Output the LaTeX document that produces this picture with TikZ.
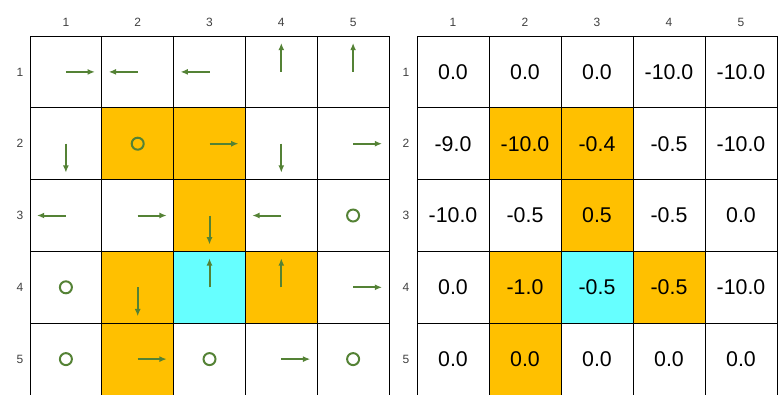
\documentclass[tikz,border=0pt]{standalone}
\usepackage{fontspec}
\setmainfont{Liberation Sans}
\usepackage{xcolor}
\usepackage{tikz}
\usetikzlibrary{arrows.meta,calc}

\definecolor{optgreen}{RGB}{84,130,53}
\definecolor{pathorange}{RGB}{255,192,0}
\definecolor{startcyan}{RGB}{102,255,255}
\definecolor{labelgray}{RGB}{64,64,64}

\tikzset{
    act/.style={draw=optgreen, line width=1.5pt, -{Latex[length=5.5pt,width=4.5pt]}},
    stay/.style={draw=optgreen, line width=1.5pt},
    idx/.style={font=\fontsize{9}{10}\selectfont, text=labelgray},
    val/.style={font=\fontsize{16}{18}\selectfont}
}

\begin{document}
\begin{tikzpicture}[x=0.75pt,y=-0.75pt]
    \useasboundingbox (0,0) rectangle (781,394);
    \clip (0,0) rectangle (781,394);

    % cell centres
    \foreach \r in {1,...,5}
        \foreach \c in {1,...,5} {
            \coordinate (p-\r-\c) at ({30+71.8*(\c-0.5)},{36+71.8*(\r-0.5)});
            \coordinate (v-\r-\c) at ({417+72*(\c-0.5)},{36+71.8*(\r-0.5)});
        }

    % highlighted cells
    \foreach \r/\c in {2/2,2/3,3/3,4/2,4/4,5/2} {
        \fill[pathorange] ($(p-\r-\c)+(-35.9,-35.9)$) rectangle ++(71.8,71.8);
        \fill[pathorange] ($(v-\r-\c)+(-36,-35.9)$) rectangle ++(72,71.8);
    }
    \fill[startcyan] ($(p-4-3)+(-35.9,-35.9)$) rectangle ++(71.8,71.8);
    \fill[startcyan] ($(v-4-3)+(-36,-35.9)$) rectangle ++(72,71.8);

    % grids
    \foreach \i in {0,...,5} {
        \draw[line width=0.75pt] ({30+71.8*\i},36) -- ({30+71.8*\i},396);
        \draw[line width=0.75pt] (30,{36+71.8*\i}) -- (389,{36+71.8*\i});
        \draw[line width=0.75pt] ({417+72*\i},36) -- ({417+72*\i},396);
        \draw[line width=0.75pt] (417,{36+71.8*\i}) -- (777,{36+71.8*\i});
    }

    % indices
    \foreach \i in {1,...,5} {
        \node[idx] (ct-\i) at ({30+71.8*(\i-0.5)},22) {\i};
        \node[idx] (rl-\i) at (20,{36+71.8*(\i-0.5)}) {\i};
        \node[idx] (cv-\i) at ({417+72*(\i-0.5)},22) {\i};
        \node[idx] (rv-\i) at (406,{36+71.8*(\i-0.5)}) {\i};
    }

    % policy
    \foreach \r/\c in {1/1,2/3,2/5,3/2,4/5,5/2,5/4} \draw[act] (p-\r-\c) -- ++(29,0);
    \foreach \r/\c in {1/2,1/3,3/1,3/4} \draw[act] (p-\r-\c) -- ++(-29,0);
    \foreach \r/\c in {1/4,1/5,4/3,4/4} \draw[act] (p-\r-\c) -- ++(0,-29);
    \foreach \r/\c in {2/1,2/4,3/3,4/2} \draw[act] (p-\r-\c) -- ++(0,29);
    \foreach \r/\c in {2/2,3/5,4/1,5/1,5/3,5/5} \draw[stay] (p-\r-\c) circle[radius=4.5pt];

    % values
    \foreach \row [count=\r] in {
        {0.0,0.0,0.0,-10.0,-10.0},
        {-9.0,-10.0,-0.4,-0.5,-10.0},
        {-10.0,-0.5,0.5,-0.5,0.0},
        {0.0,-1.0,-0.5,-0.5,-10.0},
        {0.0,0.0,0.0,0.0,0.0}}
        \foreach \v [count=\c] in \row
            \node[val] (n-\r-\c) at (v-\r-\c) {\v};
\end{tikzpicture}
\end{document}
